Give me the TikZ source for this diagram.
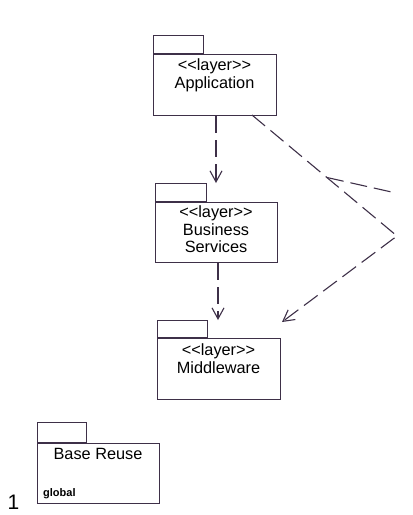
\documentclass[tikz,border=0pt]{standalone}
\usepackage{fontspec}
\setmainfont{Liberation Sans}
\usetikzlibrary{arrows.meta}
\definecolor{ln}{RGB}{62,48,72}
\newcommand{\stlayer}{<\kern0pt<layer>\kern0pt>}
\tikzset{
  pkg/.style={draw=ln, line width=1.2pt, inner sep=0pt, anchor=north west},
  tabbox/.style={draw=ln, line width=1.2pt, inner sep=0pt, anchor=south west},
  lbl/.style={font=\fontsize{16.3}{17.5}\selectfont, align=center, inner sep=0pt, anchor=north},
  depline/.style={draw=ln, line width=1.1pt, dash pattern=on 17pt off 7pt},
  dep/.style={depline, -{Straight Barb[length=11pt,width=12pt,line width=1.1pt]}},
}
\begin{document}
\begin{tikzpicture}[x=1pt,y=-1pt]
\useasboundingbox (0,0) rectangle (413,515);
% Application
\node[pkg, minimum width=123pt, minimum height=61pt] (app) at (153,54) {};
\node[tabbox, minimum width=50pt, minimum height=18pt] (appTab) at (app.north west) {};
\node[lbl] (appT) at (214.5,58.5) {\stlayer\\Application};
% Business Services
\node[pkg, minimum width=122pt, minimum height=60pt] (bus) at (155,202) {};
\node[tabbox, minimum width=51pt, minimum height=18pt] (busTab) at (bus.north west) {};
\node[lbl] (busT) at (216,205.5) {\stlayer\\Business\\Services};
% Middleware
\node[pkg, minimum width=123pt, minimum height=61pt] (mid) at (157,338) {};
\node[tabbox, minimum width=50pt, minimum height=17pt] (midTab) at (mid.north west) {};
\node[lbl] (midT) at (218.5,343.5) {\stlayer\\Middleware};
% Base Reuse
\node[pkg, minimum width=122pt, minimum height=60pt] (base) at (37,443) {};
\node[tabbox, minimum width=49pt, minimum height=20pt] (baseTab) at (base.north west) {};
\node[lbl, anchor=base] (baseT) at (98,459) {Base Reuse};
\node[font=\bfseries\fontsize{11}{13}\selectfont, inner sep=0pt, anchor=base west] (glob) at (43,496) {global};
\node[font=\fontsize{21}{24}\selectfont, inner sep=0pt, anchor=base] (one) at (13.5,509) {1};
% connectors
\coordinate (busIn) at (216,183);
\coordinate (midIn) at (218,320);
\coordinate (appOut) at (252,115);
\coordinate (bend) at (397,236);
\coordinate (midIn2) at (282,322);
\coordinate (j1) at (327,177.5);
\coordinate (r1) at (396,193);
\draw[dep] (app.south -| busIn) -- (busIn);
\draw[dep] (bus.south -| midIn) -- (midIn);
\draw[dep] (appOut) -- (bend) -- (midIn2);
\draw[depline] (j1) -- (r1);
\end{tikzpicture}
\end{document}
